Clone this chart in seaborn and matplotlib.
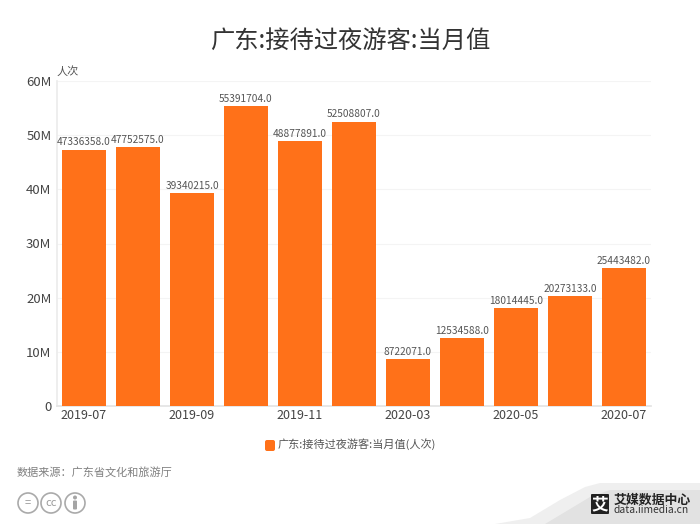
import matplotlib
matplotlib.use('Agg')
import matplotlib.pyplot as plt
from matplotlib.patches import Circle, FancyBboxPatch, Polygon
import seaborn as sns
import pandas as pd

months = ['2019-07', '2019-08', '2019-09', '2019-10', '2019-11', '2019-12',
          '2020-03', '2020-04', '2020-05', '2020-06', '2020-07']
visitors = [47336358.0, 47752575.0, 39340215.0, 55391704.0, 48877891.0, 52508807.0,
            8722071.0, 12534588.0, 18014445.0, 20273133.0, 25443482.0]
y_ticks = [0, 10000000, 20000000, 30000000, 40000000, 50000000, 60000000]
y_labels = ['0', '10M', '20M', '30M', '40M', '50M', '60M']
x_shown = ['2019-07', '2019-09', '2019-11', '2020-03', '2020-05', '2020-07']

sns.set_theme(style='white')
plt.rcParams['font.family'] = ['Noto Sans CJK SC', 'DejaVu Sans']

W, H = 700, 524
bar_color = '#ff7119'
text_color = '#555555'

df = pd.DataFrame({'month': months, 'visitors': visitors})

fig = plt.figure(figsize=(7, 5.24), dpi=100)
ax = fig.add_axes([57 / W, (H - 406) / H, (651 - 57) / W, (406 - 81) / H])

sns.barplot(data=df, x='month', y='visitors', color=bar_color, saturation=1,
            width=0.81, linewidth=0, ax=ax, zorder=3)

# value labels above the bars
for i, v in enumerate(visitors):
    ax.text(i, v + 400000, str(v), ha='center', va='bottom', fontsize=7.3, color=text_color, zorder=4)

ax.set_xlim(-0.5, 10.5)
ax.set_ylim(0, 60000000)
ax.set_yticks(y_ticks)
ax.set_yticklabels(y_labels, fontsize=9.5, color='#444444')
ax.set_xticks([months.index(m) for m in x_shown])
ax.set_xticklabels(x_shown, fontsize=9, color='#444444')
ax.tick_params(axis='x', length=0, pad=2)
ax.tick_params(axis='y', length=0, pad=4)
ax.set_xlabel('')
ax.set_ylabel('')
ax.grid(axis='y', color='#f4f4f4', lw=0.8, zorder=0)
for side in ['top', 'right']:
    ax.spines[side].set_visible(False)
ax.spines['left'].set_color('#ececec')
ax.spines['bottom'].set_color('#e4e4e4')

fig.text(350 / W, 1 - 41 / H, '广东:接待过夜游客:当月值', ha='center', va='center',
         fontsize=17.5, color='#333333')
fig.text(57 / W, 1 - 71 / H, '人次', ha='left', va='center', fontsize=8, color=text_color)

# legend
over = fig.add_axes([0, 0, 1, 1], facecolor='none')
over.set_xlim(0, W)
over.set_ylim(H, 0)
over.axis('off')
over.add_patch(FancyBboxPatch((265, 440), 10, 11, boxstyle='round,pad=0,rounding_size=2',
                              fc=bar_color, ec='none'))
over.text(278, 444.5, '广东:接待过夜游客:当月值(人次)', ha='left', va='center', fontsize=8, color=text_color)
over.text(17, 472.5, '数据来源：广东省文化和旅游厅', ha='left', va='center', fontsize=8, color='#808080')

# cc icons
for cx, lab in zip([28, 51, 75], ['=', 'cc', '']):
    over.add_patch(Circle((cx, 503), 10, fc='white', ec='#aaaaaa', lw=1.2))
    if lab:
        over.text(cx, 502.5, lab, ha='center', va='center', fontsize=8, color='#999999')
over.add_patch(Circle((75, 497.5), 2, fc='#a5a5a5', ec='none'))
over.add_patch(FancyBboxPatch((73, 500.5), 4, 9, boxstyle='round,pad=0,rounding_size=1', fc='#a5a5a5', ec='none'))

# watermark corner
over.add_patch(Polygon([(495, 524), (530, 518), (560, 500), (585, 487), (600, 483), (700, 483), (700, 524)],
                       fc='#efefef', ec='none'))
over.add_patch(Polygon([(545, 524), (565, 512), (590, 497), (610, 490), (700, 490), (700, 524)],
                       fc='#e2e2e2', ec='none'))
over.add_patch(FancyBboxPatch((591, 494), 18, 20, boxstyle='round,pad=0,rounding_size=1', fc='#222222', ec='none'))
over.text(600, 504, '艾', ha='center', va='center', fontsize=12, color='white', fontweight='bold')
over.text(614, 499.5, '艾媒数据中心', ha='left', va='center', fontsize=9.3, color='#222222', fontweight='bold')
over.text(614, 510, 'data.iimedia.cn', ha='left', va='center', fontsize=7.4, color='#333333')

fig.savefig('out.png', dpi=100)
